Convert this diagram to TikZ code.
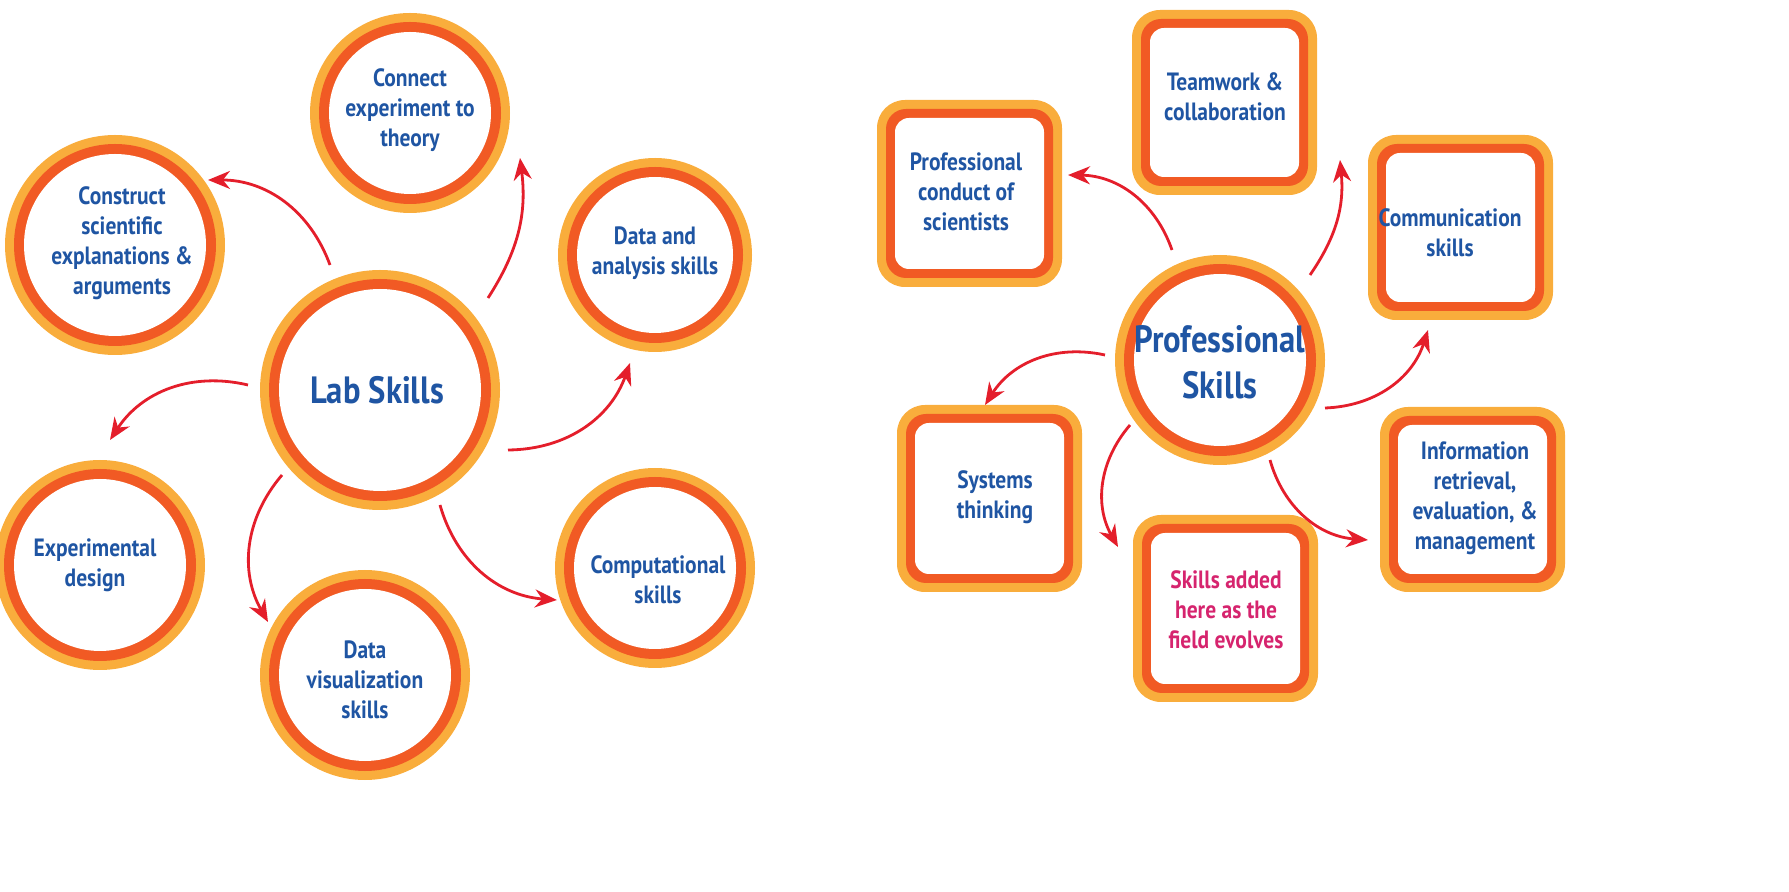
\documentclass[tikz,border=0pt]{standalone}
\usepackage{fontspec}
\setmainfont{PT Sans}[FakeStretch=0.86]
\usetikzlibrary{arrows.meta}
\definecolor{lor}{HTML}{F9AD3C}
\definecolor{dor}{HTML}{F15A24}
\definecolor{tblue}{HTML}{1F55A3}
\definecolor{tmag}{HTML}{D6246E}
\definecolor{ared}{HTML}{E41E2B}
\newcommand\ringnode[4]{%
  \fill[lor] (#2,#3) circle[radius=#4];
  \fill[dor] (#2,#3) circle[radius=#4-9];
  \fill[white] (#2,#3) circle[radius=#4-19];
  \node[circle,minimum size=#4*1pt,inner sep=0pt] (#1) at (#2,#3) {};}
\newcommand\boxnode[5]{%
  \fill[lor,rounded corners=14pt] (#2,#3) rectangle (#4,#5);
  \fill[dor,rounded corners=10pt] (#2+9,#3+9) rectangle (#4-9,#5-9);
  \fill[white,rounded corners=7pt] (#2+18,#3+18) rectangle (#4-18,#5-18);
  \node[minimum width=(#4-#2)*0.5pt,minimum height=(#5-#3)*0.5pt,inner sep=0pt] (#1) at ({(#2+#4)/2},{(#3+#5)/2}) {};}
\tikzset{lbl/.style={align=center,text=tblue,font=\bfseries\fontsize{12.5}{15}\selectfont},
  big/.style={align=center,text=tblue,font=\bfseries\fontsize{19}{23}\selectfont},
  arr/.style={draw=ared,line width=1.4pt,-{Stealth[length=11pt,width=9pt]},bend right=35}}
\begin{document}
\begin{tikzpicture}[x=0.5pt,y=-0.5pt]
\useasboundingbox (0,0) rectangle (1789,892);
% left
\ringnode{Lab}{380}{390}{120}
\ringnode{Con}{410}{113}{100}
\ringnode{Cst}{115}{245}{110}
\ringnode{Dat}{655}{255}{97}
\ringnode{Exp}{100}{565}{105}
\ringnode{Viz}{365}{675}{105}
\ringnode{Cmp}{655}{568}{100}
\node[big] (tLab) at (377,390) {Lab Skills};
\node[lbl] (tCon) at (410,110) {Connect\\experiment to\\theory};
\node[lbl] (tCst) at (122,243) {Construct\\scientific\\explanations \&\\arguments};
\node[lbl] (tDat) at (655,253) {Data and\\analysis skills};
\node[lbl] (tExp) at (95,565) {Experimental\\design};
\node[lbl] (tViz) at (365,680) {Data\\visualization\\skills};
\node[lbl] (tCmp) at (658,580) {Computational\\skills};
\coordinate (a1s) at (330,265); \coordinate (a1e) at (208,180);
\coordinate (a2s) at (488,298); \coordinate (a2e) at (520,158);
\coordinate (a3s) at (508,450); \coordinate (a3e) at (630,363);
\coordinate (a4s) at (440,505); \coordinate (a4e) at (557,600);
\coordinate (a5s) at (282,475); \coordinate (a5e) at (268,622);
\coordinate (a6s) at (248,385); \coordinate (a6e) at (110,440);
\draw[arr] (a1s) to (a1e);
\draw[arr,bend right=20] (a2s) to (a2e);
\draw[arr] (a3s) to (a3e);
\draw[arr] (a4s) to (a4e);
\draw[arr] (a5s) to (a5e);
\draw[arr] (a6s) to (a6e);
% right
\ringnode{PS}{1220}{360}{105}
\boxnode{Cnd}{877}{100}{1062}{287}
\boxnode{Tm}{1132}{10}{1317}{195}
\boxnode{Com}{1368}{135}{1553}{320}
\boxnode{Sys}{897}{405}{1082}{592}
\boxnode{Add}{1133}{515}{1318}{702}
\boxnode{Inf}{1380}{407}{1565}{592}
\node[big] (tPS) at (1220,362) {Professional\\Skills};
\node[lbl] (tCnd) at (966,192) {Professional\\conduct of\\scientists};
\node[lbl] (tTm) at (1225,97) {Teamwork \&\\collaboration};
\node[lbl] (tCom) at (1450,233) {Communication\\skills};
\node[lbl] (tSys) at (995,497) {Systems\\thinking};
\node[lbl,text=tmag] (tAdd) at (1226,610) {Skills added\\here as the\\field evolves};
\node[lbl] (tInf) at (1475,498) {Information\\retrieval,\\evaluation, \&\\management};
\coordinate (b1s) at (1172,250); \coordinate (b1e) at (1068,175);
\coordinate (b2s) at (1310,275); \coordinate (b2e) at (1340,160);
\coordinate (b3s) at (1325,408); \coordinate (b3e) at (1428,330);
\coordinate (b4s) at (1270,460); \coordinate (b4e) at (1368,540);
\coordinate (b5s) at (1130,425); \coordinate (b5e) at (1118,547);
\coordinate (b6s) at (1105,355); \coordinate (b6e) at (985,405);
\draw[arr] (b1s) to (b1e);
\draw[arr,bend right=20] (b2s) to (b2e);
\draw[arr] (b3s) to (b3e);
\draw[arr] (b4s) to (b4e);
\draw[arr] (b5s) to (b5e);
\draw[arr] (b6s) to (b6e);
\end{tikzpicture}
\end{document}
